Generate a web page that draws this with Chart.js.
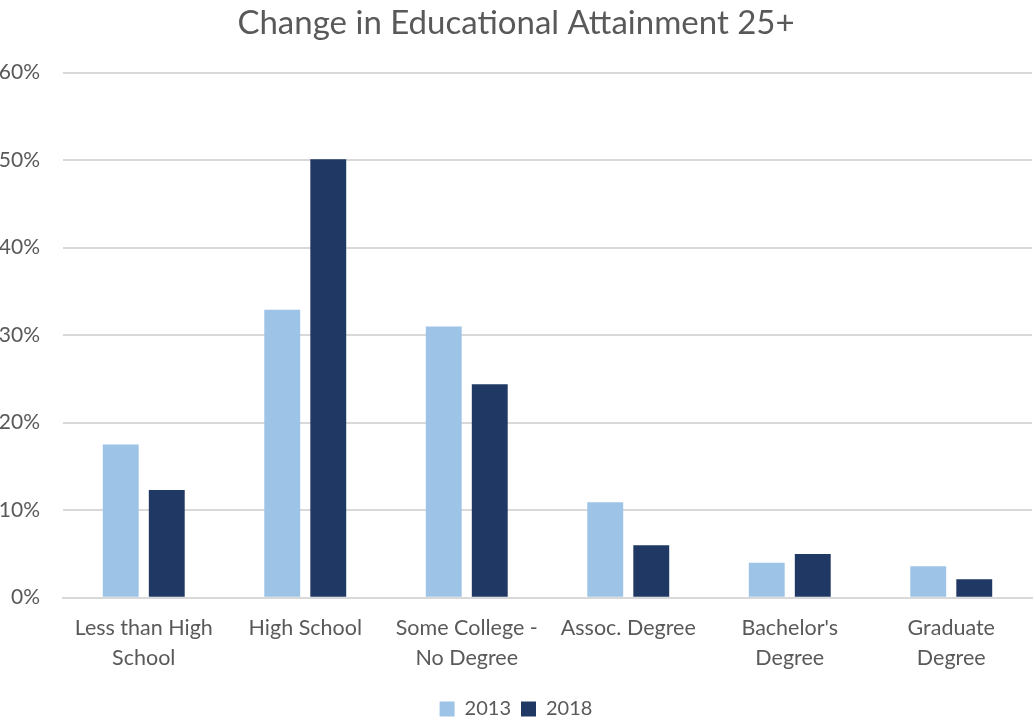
<!DOCTYPE html>
<html>
<head>
<meta charset="utf-8">
<script src="https://cdn.jsdelivr.net/npm/chart.js@4.4.1/dist/chart.umd.min.js"></script>
<style>
html,body{margin:0;padding:0;background:#fff;}
#wrap{width:1034px;height:720px;position:relative;}
</style>
</head>
<body>
<div id="wrap"><canvas id="c" width="1034" height="720"></canvas></div>
<script>
const categories = [
  ["Less than High","School"],
  "High School",
  ["Some College -","No Degree"],
  "Assoc. Degree",
  ["Bachelor's","Degree"],
  ["Graduate","Degree"]
];
const values2013 = [17.5, 32.9, 31.0, 10.9, 4.0, 3.6];
const values2018 = [12.3, 50.1, 24.4, 6.0, 5.0, 2.1];
const seriesNames = ["2013", "2018"];
const yTicks = [0, 10, 20, 30, 40, 50, 60];

const FONT = "Lato, 'Open Sans', sans-serif";
const TXT = "#595959";

new Chart(document.getElementById('c'), {
  type: 'bar',
  data: {
    labels: categories,
    datasets: [
      { label: seriesNames[0], data: values2013, backgroundColor: '#9DC3E6', borderWidth: 0 },
      { label: seriesNames[1], data: values2018, backgroundColor: '#203864', borderWidth: 0 }
    ]
  },
  options: {
    responsive: false,
    animation: false,
    layout: { padding: { left: 0, right: 2, top: 4, bottom: -9 } },
    datasets: { bar: { categoryPercentage: 0.57, barPercentage: 0.78 } },
    plugins: {
      title: {
        display: true,
        text: 'Change in Educational Attainment 25+',
        color: TXT,
        font: { family: FONT, size: 33, weight: '400' },
        padding: { top: 0, bottom: 29 }
      },
      legend: {
        position: 'bottom',
        labels: {
          color: TXT,
          font: { family: FONT, size: 20 },
          boxWidth: 15, boxHeight: 15, padding: 10
        }
      },
      tooltip: { enabled: false }
    },
    scales: {
      x: {
        grid: { display: false },
        border: { color: '#d9d9d9', width: 2 },
        ticks: { color: TXT, font: { family: FONT, size: 21.5, lineHeight: 1.38 }, maxRotation: 0, autoSkip: false, padding: 8 },
        afterFit: (ax) => { ax.paddingLeft = 0; ax.paddingRight = 0; ax.height += 8; }
      },
      y: {
        min: 0, max: 60,
        afterBuildTicks: (ax) => { ax.ticks = yTicks.map(v => ({ value: v })); },
        afterFit: (ax) => { ax.width = 63; },
        grid: { color: '#d9d9d9', lineWidth: 2, drawTicks: false },
        border: { display: false },
        ticks: { color: TXT, font: { family: FONT, size: 21 }, padding: 23, callback: v => v + '%' }
      }
    }
  }
});
</script>
</body>
</html>
